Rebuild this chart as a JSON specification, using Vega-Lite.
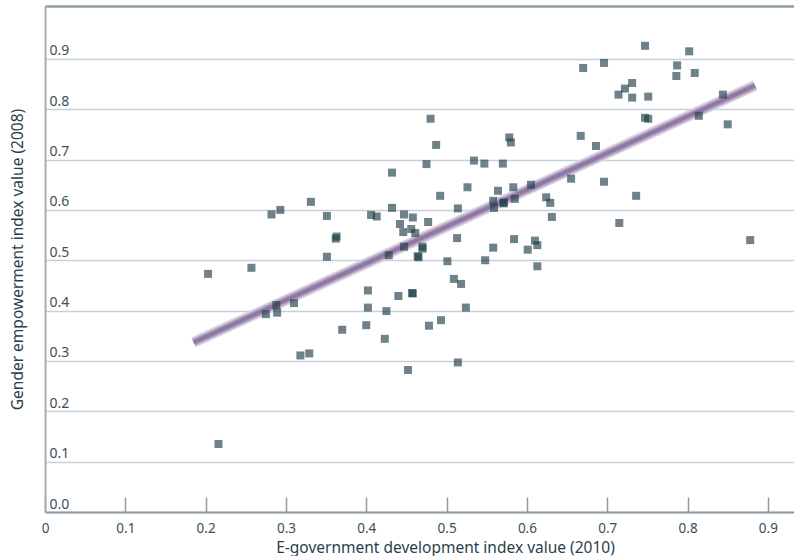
{
  "$schema": "https://vega.github.io/schema/vega-lite/v6.json",
  "width": 749,
  "height": 506,
  "autosize": {"type": "none"},
  "padding": {"left": 45, "top": 6, "right": 0, "bottom": 44},
  "background": "white",
  "config": {"view": {"stroke": null}, "font": "Noto Sans"},
  "datasets": {
    "fit": [{"egov": 0.185, "gem": 0.337}, {"egov": 0.884, "gem": 0.847}],
    "points": [
      {"egov": 0.203, "gem": 0.473}, {"egov": 0.257, "gem": 0.485}, {"egov": 0.282, "gem": 0.591},
      {"egov": 0.293, "gem": 0.600}, {"egov": 0.331, "gem": 0.616}, {"egov": 0.351, "gem": 0.588},
      {"egov": 0.351, "gem": 0.507}, {"egov": 0.363, "gem": 0.547}, {"egov": 0.362, "gem": 0.543},
      {"egov": 0.406, "gem": 0.590}, {"egov": 0.413, "gem": 0.587}, {"egov": 0.402, "gem": 0.440},
      {"egov": 0.402, "gem": 0.406}, {"egov": 0.275, "gem": 0.393}, {"egov": 0.288, "gem": 0.411},
      {"egov": 0.289, "gem": 0.396}, {"egov": 0.310, "gem": 0.415}, {"egov": 0.370, "gem": 0.362},
      {"egov": 0.400, "gem": 0.371}, {"egov": 0.318, "gem": 0.311}, {"egov": 0.329, "gem": 0.315},
      {"egov": 0.216, "gem": 0.135}, {"egov": 0.480, "gem": 0.781}, {"egov": 0.487, "gem": 0.729},
      {"egov": 0.578, "gem": 0.744}, {"egov": 0.580, "gem": 0.734}, {"egov": 0.475, "gem": 0.691},
      {"egov": 0.534, "gem": 0.698}, {"egov": 0.547, "gem": 0.692}, {"egov": 0.570, "gem": 0.692},
      {"egov": 0.432, "gem": 0.674}, {"egov": 0.492, "gem": 0.628}, {"egov": 0.526, "gem": 0.645},
      {"egov": 0.564, "gem": 0.638}, {"egov": 0.432, "gem": 0.604}, {"egov": 0.514, "gem": 0.603},
      {"egov": 0.558, "gem": 0.618}, {"egov": 0.559, "gem": 0.604}, {"egov": 0.571, "gem": 0.615},
      {"egov": 0.571, "gem": 0.613}, {"egov": 0.447, "gem": 0.591}, {"egov": 0.458, "gem": 0.585},
      {"egov": 0.442, "gem": 0.572}, {"egov": 0.477, "gem": 0.576}, {"egov": 0.446, "gem": 0.556},
      {"egov": 0.456, "gem": 0.562}, {"egov": 0.461, "gem": 0.554}, {"egov": 0.447, "gem": 0.527},
      {"egov": 0.470, "gem": 0.527}, {"egov": 0.470, "gem": 0.523}, {"egov": 0.428, "gem": 0.510},
      {"egov": 0.464, "gem": 0.508}, {"egov": 0.465, "gem": 0.506}, {"egov": 0.513, "gem": 0.544},
      {"egov": 0.558, "gem": 0.525}, {"egov": 0.501, "gem": 0.498}, {"egov": 0.548, "gem": 0.500},
      {"egov": 0.509, "gem": 0.463}, {"egov": 0.518, "gem": 0.453}, {"egov": 0.440, "gem": 0.429},
      {"egov": 0.457, "gem": 0.435}, {"egov": 0.458, "gem": 0.434}, {"egov": 0.425, "gem": 0.399},
      {"egov": 0.524, "gem": 0.406}, {"egov": 0.493, "gem": 0.381}, {"egov": 0.478, "gem": 0.370},
      {"egov": 0.423, "gem": 0.344}, {"egov": 0.514, "gem": 0.297}, {"egov": 0.452, "gem": 0.282},
      {"egov": 0.667, "gem": 0.747}, {"egov": 0.686, "gem": 0.727}, {"egov": 0.655, "gem": 0.662},
      {"egov": 0.696, "gem": 0.656}, {"egov": 0.605, "gem": 0.650}, {"egov": 0.583, "gem": 0.645},
      {"egov": 0.736, "gem": 0.628}, {"egov": 0.585, "gem": 0.622}, {"egov": 0.624, "gem": 0.625},
      {"egov": 0.629, "gem": 0.614}, {"egov": 0.631, "gem": 0.586}, {"egov": 0.715, "gem": 0.574},
      {"egov": 0.584, "gem": 0.542}, {"egov": 0.610, "gem": 0.539}, {"egov": 0.613, "gem": 0.530},
      {"egov": 0.601, "gem": 0.521}, {"egov": 0.613, "gem": 0.488}, {"egov": 0.878, "gem": 0.540},
      {"egov": 0.747, "gem": 0.926}, {"egov": 0.802, "gem": 0.915}, {"egov": 0.670, "gem": 0.882},
      {"egov": 0.696, "gem": 0.892}, {"egov": 0.787, "gem": 0.887}, {"egov": 0.786, "gem": 0.866},
      {"egov": 0.809, "gem": 0.872}, {"egov": 0.731, "gem": 0.852}, {"egov": 0.722, "gem": 0.841},
      {"egov": 0.714, "gem": 0.829}, {"egov": 0.731, "gem": 0.823}, {"egov": 0.751, "gem": 0.825},
      {"egov": 0.844, "gem": 0.829}, {"egov": 0.747, "gem": 0.783}, {"egov": 0.751, "gem": 0.781},
      {"egov": 0.814, "gem": 0.787}, {"egov": 0.850, "gem": 0.770}
    ]
  },
  "resolve": {"axis": {"x": "independent", "y": "independent"}},
  "layer": [
    {
      "data": {"name": "fit"},
      "mark": {"type": "line", "strokeWidth": 11, "color": "#dad1e3", "strokeCap": "butt"},
      "encoding": {
        "x": {
          "field": "egov", "type": "quantitative",
          "scale": {"domain": [0, 0.9325], "nice": false, "zero": false},
          "axis": {
            "values": [0, 0.1, 0.2, 0.3, 0.4, 0.5, 0.6, 0.7, 0.8, 0.9],
            "labelExpr": "datum.value == 0 ? '0' : format(datum.value, '.1f')",
            "domainColor": "#8d9ba4", "domainWidth": 2,
            "ticks": true, "tickColor": "#8d9ba4", "tickWidth": 1.5, "tickSize": -15,
            "labelPadding": 24, "labelFlush": false, "labelFontSize": 13.5, "labelColor": "#3b4e59",
            "grid": false,
            "title": "E-government development index value (2010)",
            "titleFontSize": 15.5, "titleFontWeight": "normal", "titleColor": "#2b3f4a",
            "titleX": 400, "titleY": 40, "titleBaseline": "alphabetic", "titleAlign": "center"
          }
        },
        "y": {
          "field": "gem", "type": "quantitative",
          "scale": {"domain": [0, 1.005], "nice": false, "zero": false},
          "axis": {
            "values": [0, 0.1, 0.2, 0.3, 0.4, 0.5, 0.6, 0.7, 0.8, 0.9],
            "format": ".1f",
            "domainColor": "#a3aeb5", "domainWidth": 2,
            "ticks": false,
            "grid": true, "gridColor": "#c6d0d7", "gridWidth": 1.5,
            "labelAlign": "left", "labelBaseline": "bottom", "labelPadding": -4, "labelOffset": -1,
            "labelFontSize": 14, "labelColor": "#3b4e59",
            "title": "Gender empowerment index value (2008)",
            "titleFontSize": 15.5, "titleFontWeight": "normal", "titleColor": "#2b3f4a",
            "titleX": -28, "titleY": 253, "titleBaseline": "middle", "titleAlign": "center", "titleAngle": -90
          }
        }
      }
    },
    {
      "data": {"name": "fit"},
      "mark": {"type": "line", "strokeWidth": 7.5, "color": "#b3a2c2", "strokeCap": "butt"},
      "encoding": {
        "x": {"field": "egov", "type": "quantitative", "scale": {"domain": [0, 0.9325], "nice": false, "zero": false}, "axis": null},
        "y": {"field": "gem", "type": "quantitative", "scale": {"domain": [0, 1.005], "nice": false, "zero": false}, "axis": null}
      }
    },
    {
      "data": {"name": "fit"},
      "mark": {"type": "line", "strokeWidth": 4, "color": "#8e79a0", "strokeCap": "butt"},
      "encoding": {
        "x": {"field": "egov", "type": "quantitative", "scale": {"domain": [0, 0.9325], "nice": false, "zero": false}, "axis": null},
        "y": {"field": "gem", "type": "quantitative", "scale": {"domain": [0, 1.005], "nice": false, "zero": false}, "axis": null}
      }
    },
    {
      "data": {"name": "points"},
      "mark": {"type": "square", "size": 64, "color": "#1d3a47", "opacity": 0.64, "filled": true},
      "encoding": {
        "x": {
          "field": "egov", "type": "quantitative",
          "scale": {"domain": [0, 0.9325], "nice": false, "zero": false},
          "axis": {"orient": "top", "domain": true, "domainColor": "#8f9da6", "domainWidth": 2.5, "ticks": false, "labels": false, "grid": false, "title": null}
        },
        "y": {"field": "gem", "type": "quantitative", "scale": {"domain": [0, 1.005], "nice": false, "zero": false}, "axis": null}
      }
    }
  ]
}
